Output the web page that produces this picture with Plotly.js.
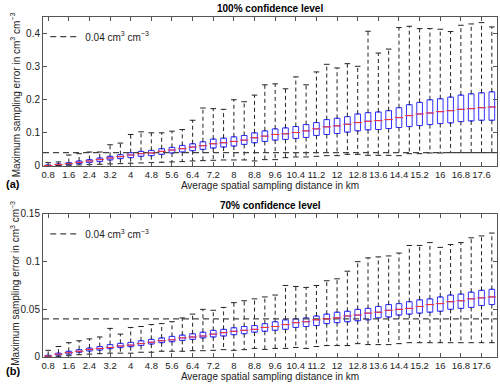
<!DOCTYPE html>
<html>
<head>
<meta charset="utf-8">
<script src="https://cdn.plot.ly/plotly-3.0.1.min.js"></script>
<style>
  body { margin: 0; background: #fff; }
  #plotArea { width: 500px; height: 389px; }
</style>
</head>
<body>
<div id="plotArea"></div>
<script>
// sampling distances (km), one box each
var distances = [0.8, 1.2, 1.6, 2.0, 2.4, 2.8, 3.2, 3.6, 4.0, 4.4, 4.8, 5.2, 5.6, 6.0, 6.4, 6.8, 7.2, 7.6, 8.0, 8.4,
  8.8, 9.2, 9.6, 10.0, 10.4, 10.8, 11.2, 11.6, 12.0, 12.4, 12.8, 13.2, 13.6, 14.0, 14.4, 14.8, 15.2, 15.6, 16.0, 16.4,
  16.8, 17.2, 17.6, 18.0];
var tickPositions = [0.8, 1.6, 2.4, 3.2, 4.0, 4.8, 5.6, 6.4, 7.2, 8.0, 8.8, 9.6, 10.4, 11.2, 12.0, 12.8, 13.6, 14.4, 15.2, 16.0, 16.8, 17.6];
var tickLabels = ["0.8", "1.6", "2.4", "3.2", "4", "4.8", "5.6", "6.4", "7.2", "8", "8.8", "9.6", "10.4", "11.2", "12", "12.8", "13.6", "14.4", "15.2", "16", "16.8", "17.6"];
var threshold = 0.04;

// 100% confidence level
var up100 = [0.010, 0.012, 0.033, 0.037, 0.042, 0.042, 0.064, 0.069, 0.095, 0.103, 0.100, 0.100, 0.105, 0.110, 0.138, 0.175, 0.173, 0.171, 0.200, 0.194,
  0.214, 0.245, 0.248, 0.233, 0.269, 0.245, 0.284, 0.307, 0.296, 0.309, 0.301, 0.407, 0.341, 0.353, 0.418, 0.422, 0.415, 0.415, 0.413, 0.406,
  0.425, 0.429, 0.433, 0.420];
var q3_100 = [0.003, 0.006, 0.010, 0.015, 0.019, 0.024, 0.029, 0.034, 0.040, 0.044, 0.047, 0.052, 0.056, 0.062, 0.067, 0.073, 0.081, 0.084, 0.088, 0.092,
  0.100, 0.106, 0.112, 0.115, 0.119, 0.125, 0.131, 0.140, 0.144, 0.149, 0.157, 0.161, 0.163, 0.167, 0.176, 0.185, 0.192, 0.200, 0.203, 0.208,
  0.214, 0.218, 0.221, 0.224];
var med100 = [0.001, 0.004, 0.007, 0.011, 0.015, 0.019, 0.024, 0.028, 0.033, 0.037, 0.039, 0.044, 0.048, 0.052, 0.057, 0.061, 0.067, 0.070, 0.074, 0.078,
  0.085, 0.090, 0.095, 0.097, 0.101, 0.106, 0.112, 0.118, 0.121, 0.126, 0.131, 0.135, 0.137, 0.140, 0.146, 0.152, 0.157, 0.160, 0.164, 0.167,
  0.171, 0.173, 0.176, 0.178];
var q1_100 = [0.000, 0.002, 0.004, 0.007, 0.010, 0.013, 0.018, 0.022, 0.025, 0.029, 0.031, 0.035, 0.039, 0.042, 0.046, 0.050, 0.054, 0.057, 0.060, 0.065,
  0.070, 0.074, 0.078, 0.080, 0.083, 0.086, 0.092, 0.095, 0.098, 0.102, 0.106, 0.109, 0.110, 0.113, 0.116, 0.119, 0.122, 0.125, 0.128, 0.130,
  0.134, 0.136, 0.138, 0.138];
var lo100 = [0.000, 0.001, 0.002, 0.003, 0.004, 0.005, 0.006, 0.007, 0.008, 0.009, 0.010, 0.011, 0.012, 0.013, 0.015, 0.016, 0.017, 0.018, 0.018, 0.018,
  0.015, 0.019, 0.019, 0.025, 0.027, 0.027, 0.029, 0.031, 0.031, 0.035, 0.035, 0.032, 0.032, 0.032, 0.031, 0.037, 0.037, 0.039, 0.039, 0.040,
  0.040, 0.040, 0.040, 0.040];

// 70% confidence level
var up70 = [0.007, 0.011, 0.015, 0.017, 0.019, 0.021, 0.030, 0.024, 0.031, 0.032, 0.034, 0.035, 0.037, 0.041, 0.045, 0.050, 0.049, 0.052, 0.057, 0.059,
  0.061, 0.063, 0.065, 0.075, 0.074, 0.073, 0.075, 0.080, 0.082, 0.090, 0.100, 0.104, 0.105, 0.106, 0.109, 0.117, 0.117, 0.120, 0.115, 0.118,
  0.120, 0.125, 0.127, 0.130];
var q3_70 = [0.0018, 0.004, 0.006, 0.0077, 0.0094, 0.011, 0.013, 0.0143, 0.0153, 0.017, 0.0185, 0.020, 0.0216, 0.023, 0.0244, 0.026, 0.028, 0.029, 0.0307, 0.032,
  0.033, 0.035, 0.037, 0.039, 0.040, 0.041, 0.043, 0.045, 0.047, 0.048, 0.050, 0.051, 0.053, 0.055, 0.056, 0.058, 0.060, 0.061, 0.063, 0.065,
  0.066, 0.068, 0.070, 0.071];
var med70 = [0.001, 0.003, 0.0045, 0.006, 0.008, 0.009, 0.010, 0.0115, 0.0125, 0.014, 0.0155, 0.017, 0.018, 0.020, 0.021, 0.022, 0.024, 0.0255, 0.027, 0.028,
  0.029, 0.031, 0.032, 0.034, 0.036, 0.037, 0.039, 0.040, 0.041, 0.043, 0.044, 0.046, 0.047, 0.049, 0.050, 0.051, 0.053, 0.055, 0.056, 0.058,
  0.059, 0.061, 0.062, 0.063];
var q1_70 = [0.000, 0.002, 0.003, 0.005, 0.0063, 0.0073, 0.0087, 0.0098, 0.0108, 0.012, 0.0136, 0.015, 0.016, 0.0174, 0.0185, 0.020, 0.021, 0.022, 0.0234, 0.0244,
  0.026, 0.027, 0.028, 0.029, 0.031, 0.032, 0.033, 0.035, 0.036, 0.037, 0.038, 0.039, 0.041, 0.042, 0.044, 0.045, 0.046, 0.047, 0.048, 0.050,
  0.051, 0.052, 0.054, 0.055];
var lo70 = [0.000, 0.0007, 0.0014, 0.0024, 0.003, 0.0035, 0.004, 0.004, 0.004, 0.005, 0.005, 0.006, 0.006, 0.006, 0.0066, 0.0066, 0.007, 0.0077, 0.007, 0.0077,
  0.009, 0.008, 0.009, 0.009, 0.010, 0.009, 0.011, 0.012, 0.012, 0.012, 0.014, 0.013, 0.013, 0.013, 0.014, 0.015, 0.015, 0.015, 0.015, 0.015,
  0.015, 0.015, 0.015, 0.015];

var xRange = [0.6, 18.2];
var font = "Liberation Sans, Arial, sans-serif";
var boxBlue = "rgb(50,50,255)";
var medRed = "rgb(255,50,50)";
var yTitle = "Maximum sampling error in cm<sup>3</sup> cm<sup>\u22123</sup>";

// builds the traces for one panel
function panelTraces(up, q3, med, q1, lo, xa, ya, legendName) {
  var wx = [], wy = [], cx = [], cy = [];
  distances.forEach(function(d, i) {
    wx.push(d, d, null, d, d, null);
    wy.push(q3[i], up[i], null, q1[i], lo[i], null);
    cx.push(d, d);
    cy.push(up[i], lo[i]);
  });
  return [
    {
      x: wx, y: wy, xaxis: xa, yaxis: ya, type: "scatter", mode: "lines",
      line: {color: "#222", width: 1, dash: "4px,3px"},
      showlegend: false, hoverinfo: "skip"
    },
    {
      x: cx, y: cy, xaxis: xa, yaxis: ya, type: "scatter", mode: "markers",
      marker: {symbol: "line-ew", size: 4, line: {color: "#222", width: 1}},
      showlegend: false, hoverinfo: "skip"
    },
    {
      x: xRange, y: [threshold, threshold], xaxis: xa, yaxis: ya, type: "scatter", mode: "lines",
      line: {color: "#444", width: 1.2, dash: "6px,4px"},
      name: "0.04 cm<sup>3</sup> cm<sup>\u22123</sup>", legend: legendName, hoverinfo: "skip"
    },
    {
      x: distances, q1: q1, median: med, q3: q3, lowerfence: q1, upperfence: q3,
      xaxis: xa, yaxis: ya, type: "box", width: 0.22, boxpoints: false,
      line: {color: boxBlue, width: 1}, fillcolor: "rgba(255,255,255,0)",
      showlegend: false, hoverinfo: "skip"
    },
    {
      x: distances, y: med, xaxis: xa, yaxis: ya, type: "scatter", mode: "markers",
      marker: {symbol: "line-ew", size: 6, line: {color: medRed, width: 1}},
      showlegend: false, hoverinfo: "skip"
    }
  ];
}

var data = panelTraces(up100, q3_100, med100, q1_100, lo100, "x", "y", "legend")
  .concat(panelTraces(up70, q3_70, med70, q1_70, lo70, "x2", "y2", "legend2"));

function xAxis(anchor) {
  return {
    anchor: anchor, range: xRange, tickvals: tickPositions, ticktext: tickLabels, tickangle: 0,
    ticks: "inside", ticklen: 4, tickcolor: "#555", mirror: "ticks", showline: true,
    linecolor: "#555", linewidth: 1, showgrid: false, zeroline: false,
    tickfont: {size: 9.5, color: "#222"},
    title: {text: "Average spatial sampling distance in km", font: {size: 10, color: "#222"}, standoff: 2}
  };
}
function yAxis(anchor, domain, range, dtick) {
  return {
    anchor: anchor, domain: domain, range: range, dtick: dtick,
    ticks: "inside", ticklen: 4, tickcolor: "#555", mirror: "ticks", showline: true,
    linecolor: "#555", linewidth: 1, showgrid: false, zeroline: false,
    tickfont: {size: 10, color: "#222"}
  };
}

var layout = {
  width: 500, height: 389,
  margin: {l: 43, r: 3, t: 17, b: 32},
  paper_bgcolor: "#fff", plot_bgcolor: "#fff",
  font: {family: font, size: 10, color: "#222"},
  showlegend: true,
  xaxis: xAxis("y"),
  yaxis: yAxis("x", [0.562, 1], [0, 0.45], 0.1),
  xaxis2: xAxis("y2"),
  yaxis2: yAxis("x2", [0, 0.4206], [0, 0.15], 0.05),
  legend: {x: 0.005, y: 0.985, xanchor: "left", yanchor: "top", bgcolor: "rgba(0,0,0,0)", font: {size: 10}},
  legend2: {x: 0.005, y: 0.405, xanchor: "left", yanchor: "top", bgcolor: "rgba(0,0,0,0)", font: {size: 10}},
  annotations: [
    {text: "<b>100% confidence level</b>", xref: "paper", yref: "paper", x: 0.5, y: 1, yanchor: "bottom",
     showarrow: false, font: {size: 10, color: "#000"}, yshift: 1},
    {text: "<b>70% confidence level</b>", xref: "paper", yref: "paper", x: 0.5, y: 0.4206, yanchor: "bottom",
     showarrow: false, font: {size: 10, color: "#000"}, yshift: 1},
    {text: yTitle, textangle: -90, xref: "paper", yref: "paper", x: -0.062, y: 0.772,
     xanchor: "center", yanchor: "middle", showarrow: false, font: {size: 10, color: "#222"}},
    {text: yTitle, textangle: -90, xref: "paper", yref: "paper", x: -0.062, y: 0.218,
     xanchor: "center", yanchor: "middle", showarrow: false, font: {size: 10, color: "#222"}},
    {text: "<b>(a)</b>", xref: "paper", yref: "paper", x: -0.085, y: 0.51, xanchor: "left",
     showarrow: false, font: {size: 11, color: "#000"}},
    {text: "<b>(b)</b>", xref: "paper", yref: "paper", x: -0.085, y: -0.065, xanchor: "left",
     showarrow: false, font: {size: 11, color: "#000"}}
  ]
};

Plotly.newPlot("plotArea", data, layout, {displayModeBar: false, staticPlot: true});
</script>
</body>
</html>
